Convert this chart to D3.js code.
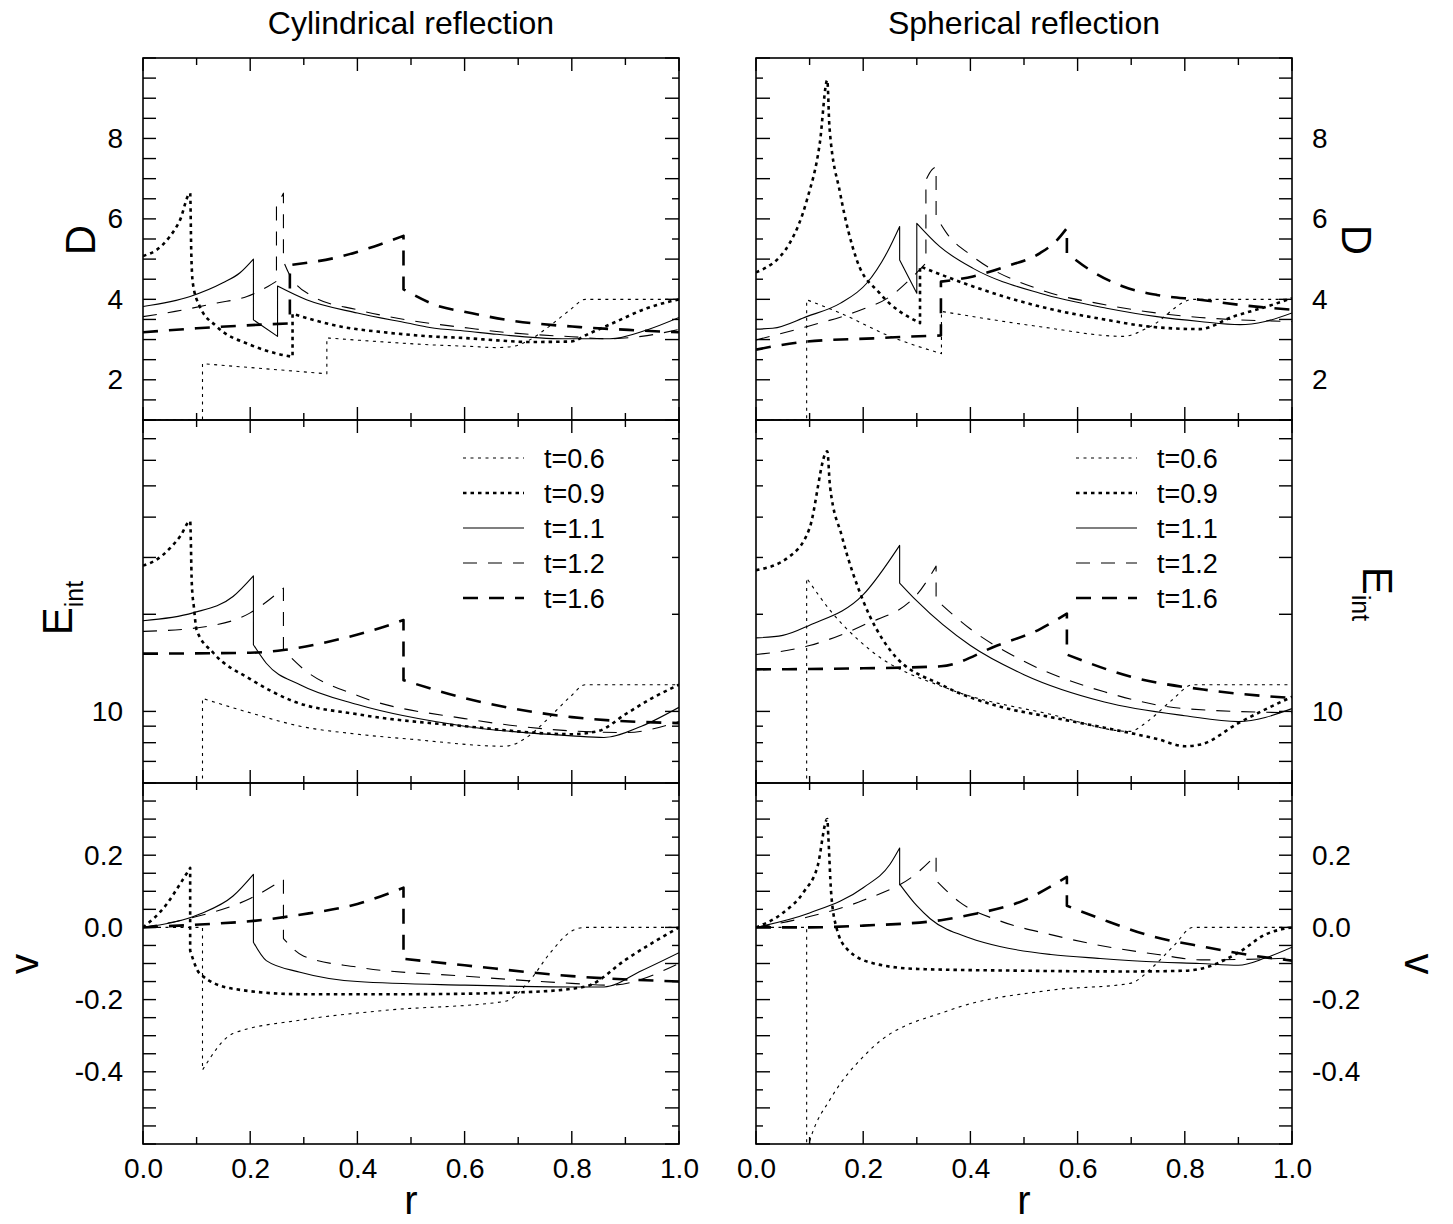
<!DOCTYPE html>
<html>
<head>
<meta charset="utf-8">
<script src="https://cdn.jsdelivr.net/npm/d3@7"></script>
<style>
  body { margin: 0; background: #fff; }
  svg text { font-family: "Liberation Sans", Arial, sans-serif; fill: #000; }
</style>
</head>
<body>
<div id="chart"></div>
<script>
// series labels (same order in every panel)
var times = ["t=0.6", "t=0.9", "t=1.1", "t=1.2", "t=1.6"];

// tick values
var rMajor = [0, 0.2, 0.4, 0.6, 0.8, 1.0],
    rMinor = [0.1, 0.3, 0.5, 0.7, 0.9],
    dTicks = d3.range(1, 10.01, 0.5),
    dLabels = [2, 4, 6, 8],
    eTicks = [7, 8, 9, 10, 20, 30, 40, 50, 60, 70, 80],
    eLabels = [10],
    vTicks = d3.range(-0.6, 0.401, 0.05).map(function (d) { return Math.round(d * 100) / 100; }),
    vLabels = [-0.4, -0.2, 0.0, 0.2];

// cylindrical reflection, [r, value] per series (same r twice = jump)
var cylD = [
  [[0,1.0],[0.111,1.0],[0.111,2.40],[0.343,2.15],[0.343,3.04],[0.45,2.94],[0.535,2.87],[0.61,2.83],[0.66,2.80],[0.69,2.83],[0.72,2.98],[0.753,3.28],[0.797,3.74],[0.825,4.0],[1.0,4.0]],
  [[0,5.08],[0.0255,5.23],[0.05,5.56],[0.069,5.97],[0.088,6.64],[0.09,5.2],[0.093,4.4],[0.105,3.85],[0.137,3.33],[0.2,2.87],[0.25,2.65],[0.279,2.57],[0.279,3.64],[0.37,3.32],[0.45,3.18],[0.535,3.08],[0.61,3.03],[0.66,2.98],[0.72,2.94],[0.797,2.95],[0.834,3.16],[0.877,3.41],[0.94,3.78],[1.0,4.0]],
  [[0,3.82],[0.088,4.07],[0.149,4.41],[0.181,4.66],[0.206,5.0],[0.206,3.49],[0.251,3.08],[0.251,4.33],[0.305,3.99],[0.4,3.66],[0.493,3.41],[0.535,3.30],[0.61,3.2],[0.66,3.13],[0.783,3.02],[0.871,3.02],[0.94,3.24],[1.0,3.55]],
  [[0,3.57],[0.06,3.70],[0.138,3.91],[0.194,4.07],[0.233,4.32],[0.249,4.45],[0.249,6.3],[0.262,6.64],[0.262,4.95],[0.272,4.65],[0.317,4.07],[0.4,3.74],[0.492,3.49],[0.61,3.28],[0.66,3.2],[0.8,3.07],[0.87,3.02],[0.93,3.08],[1.0,3.25]],
  [[0,3.18],[0.1,3.28],[0.22,3.37],[0.274,3.40],[0.274,4.85],[0.3675,5.06],[0.43,5.31],[0.486,5.58],[0.486,4.25],[0.554,3.82],[0.597,3.7],[0.678,3.49],[0.815,3.31],[0.906,3.24],[1.0,3.18]]
];
var cylE = [
  [[0.111,5.0],[0.111,10.97],[0.2,9.9],[0.293,9.0],[0.4,8.5],[0.5,8.2],[0.675,7.8],[0.72,8.4],[0.753,9.4],[0.797,11.1],[0.825,12.1],[1.0,12.1]],
  [[0,28.3],[0.025,29.5],[0.05,32],[0.07,35],[0.088,38.9],[0.091,25],[0.095,21],[0.1,17.9],[0.131,15.2],[0.2,12.6],[0.28,10.76],[0.4,9.8],[0.6,9.0],[0.8,8.5],[0.85,8.7],[0.9,9.8],[0.95,11],[1.0,12.1]],
  [[0,19.1],[0.093,20.2],[0.168,22.7],[0.206,26.3],[0.206,16.1],[0.23,14.1],[0.293,12.1],[0.4,10.5],[0.6,9.0],[0.8,8.4],[0.86,8.3],[0.93,9.0],[1.0,10.3]],
  [[0,17.7],[0.106,18.2],[0.2,20.2],[0.262,24.1],[0.262,15.5],[0.3,13.5],[0.4,11.2],[0.6,9.5],[0.8,8.7],[0.9,8.6],[1.0,9.3]],
  [[0,15.1],[0.2,15.2],[0.262,15.5],[0.35,16.5],[0.45,18.3],[0.486,19.2],[0.486,12.5],[0.6,11.0],[0.8,9.6],[1.0,9.2]]
];
var cylV = [
  [[0,0],[0.111,0],[0.111,-0.395],[0.168,-0.294],[0.293,-0.257],[0.45,-0.23],[0.675,-0.205],[0.72,-0.15],[0.76,-0.07],[0.8,-0.01],[0.825,0],[1.0,0]],
  [[0,0],[0.044,0.064],[0.069,0.12],[0.088,0.165],[0.088,-0.064],[0.106,-0.128],[0.168,-0.17],[0.293,-0.185],[0.5,-0.185],[0.7,-0.18],[0.8,-0.17],[0.834,-0.16],[0.9,-0.09],[1.0,0]],
  [[0,0],[0.106,0.037],[0.168,0.087],[0.206,0.147],[0.206,-0.041],[0.23,-0.092],[0.293,-0.124],[0.4,-0.15],[0.6,-0.16],[0.8,-0.165],[0.86,-0.165],[0.93,-0.12],[1.0,-0.07]],
  [[0,0],[0.1,0.03],[0.2,0.08],[0.262,0.133],[0.262,-0.031],[0.3,-0.08],[0.4,-0.11],[0.6,-0.135],[0.8,-0.155],[0.87,-0.16],[1.0,-0.10]],
  [[0,0],[0.106,0.008],[0.206,0.018],[0.293,0.035],[0.4,0.065],[0.486,0.11],[0.486,-0.087],[0.6,-0.105],[0.8,-0.135],[1.0,-0.15]]
];

// spherical reflection
var sphD = [
  [[0,1.0],[0.0945,1.0],[0.0945,3.99],[0.157,3.66],[0.25,3.08],[0.346,2.65],[0.346,3.70],[0.53,3.32],[0.685,3.08],[0.735,3.32],[0.816,4.0],[1.0,4.0]],
  [[0,4.67],[0.063,5.40],[0.095,6.47],[0.119,7.88],[0.133,9.45],[0.137,8.29],[0.157,6.64],[0.188,4.98],[0.231,4.15],[0.306,3.41],[0.306,4.82],[0.405,4.32],[0.53,3.82],[0.654,3.49],[0.735,3.32],[0.828,3.26],[0.89,3.57],[0.953,3.82],[1.0,4.03]],
  [[0,3.26],[0.031,3.28],[0.0945,3.57],[0.157,3.90],[0.2066,4.40],[0.244,5.15],[0.268,5.81],[0.268,4.98],[0.30,4.15],[0.30,5.89],[0.343,5.31],[0.405,4.77],[0.53,4.15],[0.654,3.78],[0.748,3.57],[0.828,3.45],[0.903,3.37],[0.95,3.45],[1.0,3.66]],
  [[0,2.99],[0.0945,3.32],[0.188,3.70],[0.25,4.07],[0.293,4.57],[0.317,4.9],[0.317,6.97],[0.328,7.22],[0.336,7.3],[0.336,6.06],[0.356,5.64],[0.405,5.06],[0.53,4.24],[0.654,3.86],[0.748,3.66],[0.828,3.55],[1.0,3.45]],
  [[0,2.75],[0.0945,2.95],[0.219,3.03],[0.318,3.09],[0.345,3.1],[0.345,4.44],[0.405,4.57],[0.467,4.82],[0.53,5.15],[0.56,5.45],[0.58,5.77],[0.58,5.15],[0.623,4.73],[0.685,4.32],[0.748,4.11],[0.828,3.99],[0.91,3.85],[1.0,3.74]]
];
var sphE = [
  [[0.0945,5],[0.0945,25.9],[0.138,20.6],[0.213,15.5],[0.362,11.7],[0.549,9.8],[0.698,8.67],[0.73,9.3],[0.775,10.8],[0.815,12.1],[1.0,12.1]],
  [[0,27.4],[0.06,30],[0.1,37],[0.133,64],[0.138,50],[0.16,35],[0.2,22],[0.25,15.5],[0.35,12.0],[0.45,10.4],[0.55,9.6],[0.65,8.9],[0.75,8.2],[0.8,7.8],[0.83,7.9],[0.9,9.2],[1.0,11.1]],
  [[0,16.9],[0.05,17.2],[0.1,18.5],[0.2,23],[0.268,32.7],[0.268,25],[0.3,22],[0.4,16],[0.5,13],[0.65,10.7],[0.8,9.7],[0.9,9.3],[1.0,10.2]],
  [[0,15.0],[0.1,16],[0.2,18.5],[0.3,23],[0.336,28.2],[0.336,22.2],[0.4,18],[0.5,14.3],[0.65,11.5],[0.8,10.2],[1.0,9.9]],
  [[0,13.5],[0.2,13.6],[0.345,13.8],[0.45,16],[0.53,18],[0.58,20.1],[0.58,15.0],[0.7,12.8],[0.85,11.6],[1.0,11.0]]
];
var sphV = [
  [[0,0],[0.0945,0],[0.0945,-0.62],[0.105,-0.57],[0.138,-0.477],[0.213,-0.339],[0.362,-0.229],[0.549,-0.174],[0.698,-0.155],[0.74,-0.11],[0.78,-0.05],[0.815,0],[1.0,0]],
  [[0,0],[0.05,0.04],[0.09,0.1],[0.115,0.17],[0.133,0.30],[0.135,0.25],[0.14,0.1],[0.15,0.0],[0.17,-0.06],[0.22,-0.1],[0.3,-0.115],[0.5,-0.12],[0.7,-0.122],[0.8,-0.12],[0.828,-0.115],[0.9,-0.07],[0.95,-0.02],[1.0,0]],
  [[0,0],[0.1,0.04],[0.2,0.11],[0.25,0.175],[0.268,0.22],[0.268,0.12],[0.3,0.06],[0.325,0.024],[0.4,-0.03],[0.455,-0.053],[0.55,-0.075],[0.642,-0.086],[0.75,-0.096],[0.828,-0.1],[0.9,-0.105],[0.95,-0.085],[1.0,-0.055]],
  [[0,0],[0.1,0.03],[0.2,0.075],[0.3,0.15],[0.336,0.20],[0.336,0.13],[0.38,0.07],[0.455,0.018],[0.55,-0.02],[0.642,-0.05],[0.75,-0.075],[0.83,-0.09],[1.0,-0.085]],
  [[0,0],[0.1,0.0],[0.2,0.005],[0.345,0.02],[0.4,0.035],[0.5,0.075],[0.58,0.14],[0.58,0.06],[0.65,0.02],[0.735,-0.023],[0.84,-0.055],[0.95,-0.083],[1.0,-0.092]]
];

// line styles per series
var lineStyle = [
  {w: 1.1, dash: "3,4.5"},
  {w: 2.6, dash: "3.5,4"},
  {w: 1.1, dash: null},
  {w: 1.1, dash: "14,11"},
  {w: 2.6, dash: "15,11"}
];

const W = 1453, H = 1224;
const svg = d3.select("#chart").append("svg")
    .attr("width", W)
    .attr("height", H);

var cols = [{x0: 143, x1: 679, side: "left", title: "Cylindrical reflection"},
            {x0: 756, x1: 1292, side: "right", title: "Spherical reflection"}];
var rows = [{y0: 58, y1: 420}, {y0: 420, y1: 783}, {y0: 783, y1: 1144}];

var font = '"Liberation Sans", Arial, sans-serif';

function fmtNum(dec) {
    return function (d) { return d.toFixed(dec); };
}

// smooth pieces between jumps, jumps drawn straight, one path so dashes run on
function curvePath(pts, x, y) {
    var runs = [], cur = [pts[0]];
    for (var i = 1; i < pts.length; i++) {
        if (pts[i][0] <= pts[i - 1][0]) { runs.push(cur); cur = [pts[i]]; }
        else cur.push(pts[i]);
    }
    runs.push(cur);
    var gen = d3.line()
        .x(function (d) { return x(d[0]); })
        .y(function (d) { return y(d[1]); })
        .curve(d3.curveMonotoneX);
    var out = "";
    runs.forEach(function (run, k) {
        var s = run.length == 1 ? "M" + x(run[0][0]) + "," + y(run[0][1]) : gen(run);
        if (k > 0) s = "L" + s.slice(1);
        out += s;
    });
    return out;
}

function drawPanel(col, row, kind, series, ci, ri) {
    var x = d3.scaleLinear().domain([0, 1]).range([col.x0, col.x1]);
    var y;
    var ticks, labels, fmt, isMajor;
    if (kind == "D") {
        y = d3.scaleLinear().domain([1, 10]).range([row.y1, row.y0]);
        ticks = dTicks; labels = dLabels; fmt = fmtNum(0);
        isMajor = function (d) { return Math.abs(d - Math.round(d)) < 1e-6; };
    } else if (kind == "E") {
        y = d3.scaleLog().domain([6, 80]).range([row.y1, row.y0]);
        ticks = eTicks; labels = eLabels; fmt = fmtNum(0);
        isMajor = function (d) { return d == 10; };
    } else {
        y = d3.scaleLinear().domain([-0.6, 0.4]).range([row.y1, row.y0]);
        ticks = vTicks; labels = vLabels; fmt = fmtNum(1);
        isMajor = function (d) { return Math.abs(d * 10 - Math.round(d * 10)) < 1e-6; };
    }

    var g = svg.append("g");
    var clipId = "clip" + ci + ri;
    svg.append("clipPath").attr("id", clipId)
        .append("rect")
        .attr("x", col.x0).attr("y", row.y0)
        .attr("width", col.x1 - col.x0).attr("height", row.y1 - row.y0);

    // curves
    g.append("g").attr("clip-path", "url(#" + clipId + ")")
        .selectAll("path")
        .data(series)
        .enter()
        .append("path")
        .attr("d", function (d) { return curvePath(d, x, y); })
        .attr("fill", "none")
        .attr("stroke", "#000")
        .attr("stroke-width", function (d, i) { return lineStyle[i].w; })
        .attr("stroke-dasharray", function (d, i) { return lineStyle[i].dash; })
        .attr("stroke-linejoin", "round");

    // ticks, inward on all four sides
    var tk = g.append("g").attr("stroke", "#000").attr("stroke-width", 1.4);
    function xTicks(vals, len) {
        vals.forEach(function (v) {
            tk.append("line").attr("x1", x(v)).attr("x2", x(v))
                .attr("y1", row.y0).attr("y2", row.y0 + len);
            tk.append("line").attr("x1", x(v)).attr("x2", x(v))
                .attr("y1", row.y1).attr("y2", row.y1 - len);
        });
    }
    xTicks(rMajor, 13);
    xTicks(rMinor, 7);
    ticks.forEach(function (v) {
        var lenL = 13, lenR = isMajor(v) ? 14 : 7;
        if (col.side == "right") { var t = lenL; lenL = lenR; lenR = t; }
        tk.append("line").attr("x1", col.x0).attr("x2", col.x0 + lenL)
            .attr("y1", y(v)).attr("y2", y(v));
        tk.append("line").attr("x1", col.x1).attr("x2", col.x1 - lenR)
            .attr("y1", y(v)).attr("y2", y(v));
    });

    // frame
    g.append("rect")
        .attr("x", col.x0).attr("y", row.y0)
        .attr("width", col.x1 - col.x0).attr("height", row.y1 - row.y0)
        .attr("fill", "none").attr("stroke", "#000").attr("stroke-width", 1.6);

    // y tick labels on the outer side
    var ax = (col.side == "left" ? d3.axisLeft(y) : d3.axisRight(y))
        .tickValues(labels).tickFormat(fmt).tickSize(0).tickPadding(20);
    var axg = g.append("g")
        .attr("transform", "translate(" + (col.side == "left" ? col.x0 : col.x1) + ",0)")
        .call(ax);
    axg.select(".domain").remove();
    axg.selectAll("text").style("font-family", font).style("font-size", "28px").attr("fill", "#000");

    // x tick labels under the bottom row
    if (ri == 2) {
        var bx = d3.axisBottom(x).tickValues(rMajor).tickFormat(fmtNum(1))
            .tickSize(0).tickPadding(14);
        var bg = g.append("g").attr("transform", "translate(0," + row.y1 + ")").call(bx);
        bg.select(".domain").remove();
        bg.selectAll("text").style("font-family", font).style("font-size", "28px").attr("fill", "#000");
    }

    // legend in the middle row
    if (kind == "E") {
        var lg = g.append("g");
        times.forEach(function (t, i) {
            var ly = 458 + i * 35;
            lg.append("line")
                .attr("x1", col.x0 + 320).attr("x2", col.x0 + 381)
                .attr("y1", ly).attr("y2", ly)
                .attr("stroke", "#000")
                .attr("stroke-width", lineStyle[i].w)
                .attr("stroke-dasharray", lineStyle[i].dash);
            lg.append("text")
                .attr("x", col.x0 + 401).attr("y", ly + 9.5)
                .style("font-size", "27px")
                .text(t);
        });
    }
}

var panelData = [[cylD, cylE, cylV], [sphD, sphE, sphV]];
var kinds = ["D", "E", "v"];
cols.forEach(function (col, ci) {
    rows.forEach(function (row, ri) {
        drawPanel(col, row, kinds[ri], panelData[ci][ri], ci, ri);
    });
    svg.append("text")
        .attr("x", (col.x0 + col.x1) / 2).attr("y", 34)
        .attr("text-anchor", "middle")
        .style("font-size", "32px")
        .text(col.title);
    svg.append("text")
        .attr("x", (col.x0 + col.x1) / 2).attr("y", 1214)
        .attr("text-anchor", "middle")
        .style("font-size", "40px")
        .text("r");
});

// y axis titles
function yTitle(xp, yp, rot, main, sub, size) {
    var t = svg.append("text")
        .attr("transform", "translate(" + xp + "," + yp + ") rotate(" + rot + ")")
        .attr("text-anchor", "middle")
        .style("font-size", (size || 42) + "px");
    t.append("tspan").text(main);
    if (sub) t.append("tspan").attr("dy", 11).style("font-size", "25px").text(sub);
}
yTitle(95, 240, -90, "D");
yTitle(72, 608, -90, "E", "int");
yTitle(38, 964, -90, "v", null, 41);
yTitle(1342, 240, 90, "D");
yTitle(1363, 594, 90, "E", "int");
yTitle(1405, 964, 90, "v");
</script>
</body>
</html>
